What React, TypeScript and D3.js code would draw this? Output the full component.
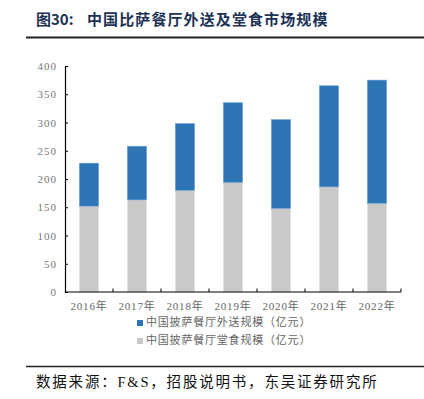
import React, { useEffect, useRef } from 'react';
import * as d3 from 'd3';

const years = ['2016年', '2017年', '2018年', '2019年', '2020年', '2021年', '2022年'];
const dineIn = [152, 163, 180, 194, 148, 186, 157];
const delivery = [76, 95, 118, 141, 157, 179, 218];
const yTicks = [0, 50, 100, 150, 200, 250, 300, 350, 400];
const seriesNames = ['中国披萨餐厅外送规模（亿元）', '中国披萨餐厅堂食规模（亿元）'];

const W = 424;
const H = 399;
const BLUE = '#2E75B6';
const GRAY = '#C9C9C9';

export default function App() {
  const ref = useRef<SVGSVGElement>(null);

  useEffect(() => {
    const svg = d3.select(ref.current);
    svg.selectAll('*').remove();

    const margin = { top: 66, left: 65, right: 23, bottom: 107 };
    const x = d3.scaleBand()
      .domain(years)
      .range([margin.left, W - margin.right])
      .paddingInner(0.6)
      .paddingOuter(0.3);
    const y = d3.scaleLinear().domain([0, 400]).range([H - margin.bottom, margin.top]);

    // title
    const title = svg.append('text')
      .attr('y', 25)
      .attr('font-family', '"Noto Sans CJK SC", sans-serif')
      .attr('font-weight', 'bold')
      .attr('font-size', 15)
      .attr('fill', '#1B3256');
    title.append('tspan').attr('x', 36).text('图30:');
    title.append('tspan').attr('x', 87).attr('letter-spacing', 1.1)
      .text('中国比萨餐厅外送及堂食市场规模');
    svg.append('line')
      .attr('x1', 26).attr('x2', W).attr('y1', 37.5).attr('y2', 37.5)
      .attr('stroke', '#222').attr('stroke-width', 2);

    // bars
    const rows = years.map((yr, i) => ({ yr, a: dineIn[i], b: delivery[i] }));
    const g = svg.append('g');
    g.selectAll('rect.dine').data(rows).enter().append('rect')
      .attr('x', d => x(d.yr)!)
      .attr('width', x.bandwidth())
      .attr('y', d => y(d.a))
      .attr('height', d => y(0) - y(d.a))
      .attr('fill', GRAY)
      .attr('stroke', '#e4e4e4').attr('stroke-width', 0.6);
    g.selectAll('rect.del').data(rows).enter().append('rect')
      .attr('x', d => x(d.yr)!)
      .attr('width', x.bandwidth())
      .attr('y', d => y(d.a + d.b))
      .attr('height', d => y(d.a) - y(d.a + d.b))
      .attr('fill', BLUE)
      .attr('stroke', '#6a9fd4').attr('stroke-width', 0.6);

    // y axis
    const yAxis = svg.append('g')
      .attr('transform', `translate(${margin.left},0)`)
      .call(d3.axisLeft(y).tickValues(yTicks).tickSize(-3).tickPadding(8));
    yAxis.select('.domain').attr('stroke', '#000').attr('stroke-width', 1.2);
    yAxis.selectAll('.tick line').attr('stroke', '#000');
    yAxis.selectAll('.tick text')
      .attr('font-family', '"Liberation Serif", serif')
      .attr('font-size', 11)
      .attr('letter-spacing', 1)
      .attr('fill', '#777');

    // x axis
    const x0 = margin.left;
    const boundaries = d3.range(years.length + 1).map(i => x0 + i * (W - margin.right - margin.left) / years.length);
    const xg = svg.append('g');
    xg.append('line')
      .attr('x1', x0).attr('x2', W - margin.right)
      .attr('y1', y(0)).attr('y2', y(0))
      .attr('stroke', '#000').attr('stroke-width', 1.2);
    xg.selectAll('line.tk').data(boundaries.slice(1)).enter().append('line')
      .attr('x1', d => d).attr('x2', d => d)
      .attr('y1', y(0)).attr('y2', y(0) - 3.5)
      .attr('stroke', '#000');
    xg.selectAll('text').data(years).enter().append('text')
      .attr('x', d => x(d)! + x.bandwidth() / 2)
      .attr('y', y(0) + 18)
      .attr('text-anchor', 'middle')
      .attr('font-family', '"Liberation Serif", "Noto Sans CJK SC", serif')
      .attr('font-size', 11)
      .attr('letter-spacing', 0.8)
      .attr('fill', '#666')
      .text(d => d);

    // legend
    const colors = [BLUE, GRAY];
    const lg = svg.selectAll('g.lg').data(seriesNames).enter().append('g')
      .attr('transform', (d, i) => `translate(137,${326 + i * 18})`);
    lg.append('rect')
      .attr('x', 0).attr('y', -6).attr('width', 6).attr('height', 6)
      .attr('fill', (d, i) => colors[i]);
    lg.append('text')
      .attr('x', 9).attr('y', 0)
      .attr('font-family', '"Noto Sans CJK SC", sans-serif')
      .attr('font-size', 11)
      .attr('letter-spacing', 0.8)
      .attr('fill', '#666')
      .text(d => d);

    // source
    svg.append('line')
      .attr('x1', 26).attr('x2', W).attr('y1', 366.5).attr('y2', 366.5)
      .attr('stroke', '#222').attr('stroke-width', 1.5);
    svg.append('text')
      .attr('x', 36).attr('y', 387)
      .attr('font-family', '"Liberation Serif", "Noto Sans CJK SC", serif')
      .attr('font-size', 14.5)
      .attr('letter-spacing', 1.8)
      .attr('fill', '#111')
      .text('数据来源：F&S，招股说明书，东吴证券研究所');
  }, []);

  return (
    <svg ref={ref} width={W} height={H}
      style={{ position: 'absolute', left: 0, top: 0, background: '#fff' }} />
  );
}
